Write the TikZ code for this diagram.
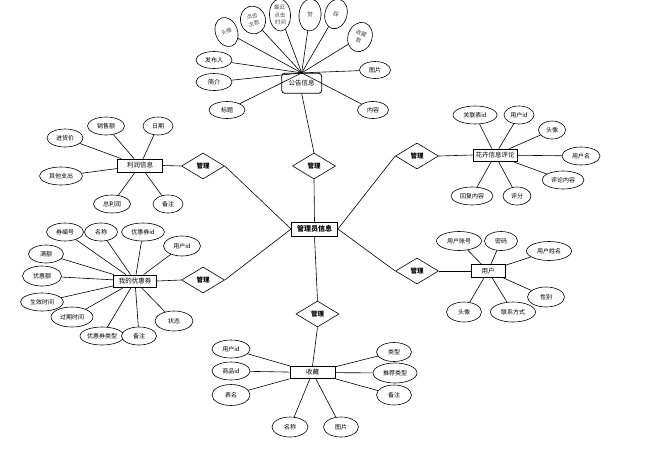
\documentclass[tikz,border=0pt]{standalone}
\usepackage{fontspec}
\newfontfamily\cjk{Noto Sans CJK SC}
\usetikzlibrary{shapes.geometric}
\tikzset{
  attr/.style={ellipse,draw,line width=0.6pt,fill=white,minimum width=36pt,minimum height=18pt,inner sep=0pt,font=\cjk\fontsize{6}{7}\selectfont},
  tall/.style={attr,align=center,inner sep=0pt,font=\cjk\fontsize{5.5}{7.5}\selectfont,text=black!70},
  ent/.style={rectangle,draw,line width=0.8pt,fill=white,minimum width=45pt,minimum height=13pt,inner sep=1pt,font=\cjk\fontsize{6.5}{7}\selectfont},
  rel/.style={diamond,draw,line width=0.6pt,fill=white,minimum width=43pt,minimum height=26pt,inner sep=0pt,font=\cjk\bfseries\fontsize{6.5}{7}\selectfont},
  link/.style={line width=0.6pt}
}
\begin{document}
\begin{tikzpicture}[x=1pt,y=-1pt]
\useasboundingbox (0,0) rectangle (645,448);
% center
\node[ent,minimum width=46pt,minimum height=14pt,font=\cjk\bfseries\fontsize{7}{8}\selectfont] (m) at (314.5,229) {管理员信息};
% diamonds
\node[rel] (d1) at (314,166) {管理};
\node[rel] (d2) at (203,166) {管理};
\node[rel] (d3) at (417,156) {管理};
\node[rel] (d4) at (203,280) {管理};
\node[rel] (d5) at (417,271) {管理};
\node[rel] (d6) at (317.5,314) {管理};
% entities
\node[ent,rounded corners=3pt,minimum width=40pt,minimum height=20pt] (g) at (301.7,83.3) {公告信息};
\node[ent] (p) at (140,165.5) {利润信息};
\node[ent,minimum width=44pt,minimum height=12pt] (h) at (495,155) {花卉信息评论};
\node[ent,minimum width=43pt,minimum height=12pt] (c) at (135,281) {我的优惠券};
\node[ent,minimum width=34pt] (u) at (488,271) {用户};
\node[ent,minimum height=12pt] (s) at (312.5,372.5) {收藏};
% 公告信息 attributes
\node[tall,minimum width=22pt,minimum height=30pt,rotate=20] (g1) at (226.5,32) {头像};
\node[tall,minimum width=25pt,minimum height=28pt,rotate=15] (g2) at (253,20) {点击\\次数};
\node[tall,minimum width=21pt,minimum height=32pt,rotate=3] (g3) at (280,15) {最近\\点击\\时间};
\node[tall,minimum width=22pt,minimum height=32pt,rotate=-5] (g4) at (310,15) {赞};
\node[tall,minimum width=22pt,minimum height=30pt,rotate=-15] (g5) at (336,14) {踩};
\node[tall,minimum width=24pt,minimum height=30pt,rotate=-20] (g6) at (360,37) {收藏\\数};
\node[attr,minimum height=17pt] (g7) at (214,60) {发布人};
\node[attr,minimum height=17pt] (g8) at (214,82) {简介};
\node[attr,minimum height=17pt] (g9) at (227,110) {标题};
\node[attr,minimum width=31pt,minimum height=17pt] (g10) at (375,70) {图片};
\node[attr,minimum width=31pt,minimum height=17pt] (g11) at (373,110) {内容};
\foreach \i in {1,...,11} \draw[link] (g\i) -- (g.north);
% 利润信息 attributes
\node[attr,minimum width=37pt] (p1) at (106,126) {销售额};
\node[attr,minimum width=30pt] (p2) at (158,126) {日期};
\node[attr,minimum width=36pt] (p3) at (65,138) {进货价};
\node[attr,minimum width=43pt] (p4) at (61,176) {其他支出};
\node[attr,minimum width=37pt] (p5) at (112,204) {总利润};
\node[attr,minimum width=30pt] (p6) at (168,204) {备注};
\foreach \i in {1,...,6} \draw[link] (p\i) -- (p);
% 花卉信息评论 attributes
\node[attr,minimum width=44pt] (h1) at (475,115) {关联表id};
\node[attr,minimum width=30pt] (h2) at (519,115) {用户id};
\node[attr,minimum width=27pt] (h3) at (552,130) {头像};
\node[attr,minimum width=38pt] (h4) at (581,156) {用户名};
\node[attr,minimum width=42pt] (h5) at (563,180) {评论内容};
\node[attr,minimum width=42pt] (h6) at (472,196) {回复内容};
\node[attr,minimum width=28pt] (h7) at (517,196) {评分};
\foreach \i in {1,...,7} \draw[link] (h\i) -- (h);
% 我的优惠券 attributes
\node[attr,minimum width=37pt] (c1) at (65,232) {券编号};
\node[attr,minimum width=33pt] (c2) at (101,232) {名称};
\node[attr,minimum width=43pt] (c3) at (143,232) {优惠券id};
\node[attr,minimum width=37pt,minimum height=20pt] (c4) at (182,246) {用户id};
\node[attr,minimum width=35pt] (c5) at (46,254) {满额};
\node[attr,minimum width=39pt,minimum height=20pt] (c6) at (42,276) {优惠额};
\node[attr,minimum width=43pt] (c7) at (42,302) {生效时间};
\node[attr,minimum width=42pt,minimum height=20pt] (c8) at (72,317) {过期时间};
\node[attr,minimum width=44pt] (c9) at (102,336) {优惠券类型};
\node[attr,minimum width=35pt] (c10) at (139,336) {备注};
\node[attr,minimum width=38pt,minimum height=20pt] (c11) at (174,321) {状态};
\foreach \i in {1,...,11} \draw[link] (c\i) -- (c);
% 用户 attributes
\node[attr,minimum width=45pt,minimum height=19pt] (u1) at (459,241) {用户账号};
\node[attr,minimum width=33pt,minimum height=19pt] (u2) at (501,241) {密码};
\node[attr,minimum width=45pt,minimum height=19pt] (u3) at (549,251) {用户姓名};
\node[attr,minimum width=37pt,minimum height=20pt] (u4) at (546,297) {性别};
\node[attr,minimum width=45pt,minimum height=20pt] (u5) at (513,312) {联系方式};
\node[attr,minimum width=35pt,minimum height=20pt] (u6) at (464,312) {头像};
\foreach \i in {1,...,6} \draw[link] (u\i) -- (u);
% 收藏 attributes
\node[attr,minimum width=38pt] (s1) at (231,349) {用户id};
\node[attr,minimum width=38pt] (s2) at (231,371) {商品id};
\node[attr,minimum width=38pt,minimum height=21pt] (s3) at (231,395) {表名};
\node[attr,minimum width=36pt,minimum height=20pt] (s4) at (290,427) {名称};
\node[attr,minimum width=35pt,minimum height=20pt] (s5) at (341,427) {图片};
\node[attr,minimum width=35pt,minimum height=19pt] (s6) at (394,352) {类型};
\node[attr,minimum width=44pt,minimum height=20pt] (s7) at (395,373) {推荐类型};
\node[attr,minimum width=35pt,minimum height=20pt] (s8) at (394,395) {备注};
\foreach \i in {1,...,8} \draw[link] (s\i) -- (s);
% relationship links
\draw[link] (g.south) -- (d1.north);
\draw[link] (d1.south) -- (m.north);
\draw[link] (p.east) -- (d2.west);
\draw[link] (d2.east) -- (m.west);
\draw[link] (h.west) -- (d3.east);
\draw[link] (d3.west) -- (m.east);
\draw[link] (c.east) -- (d4.west);
\draw[link] (d4.east) -- (m.west);
\draw[link] (u.west) -- (d5.east);
\draw[link] (d5.west) -- (m.east);
\draw[link] (m.south) -- (d6.north);
\draw[link] (d6.south) -- (s.north);
\end{tikzpicture}
\end{document}
